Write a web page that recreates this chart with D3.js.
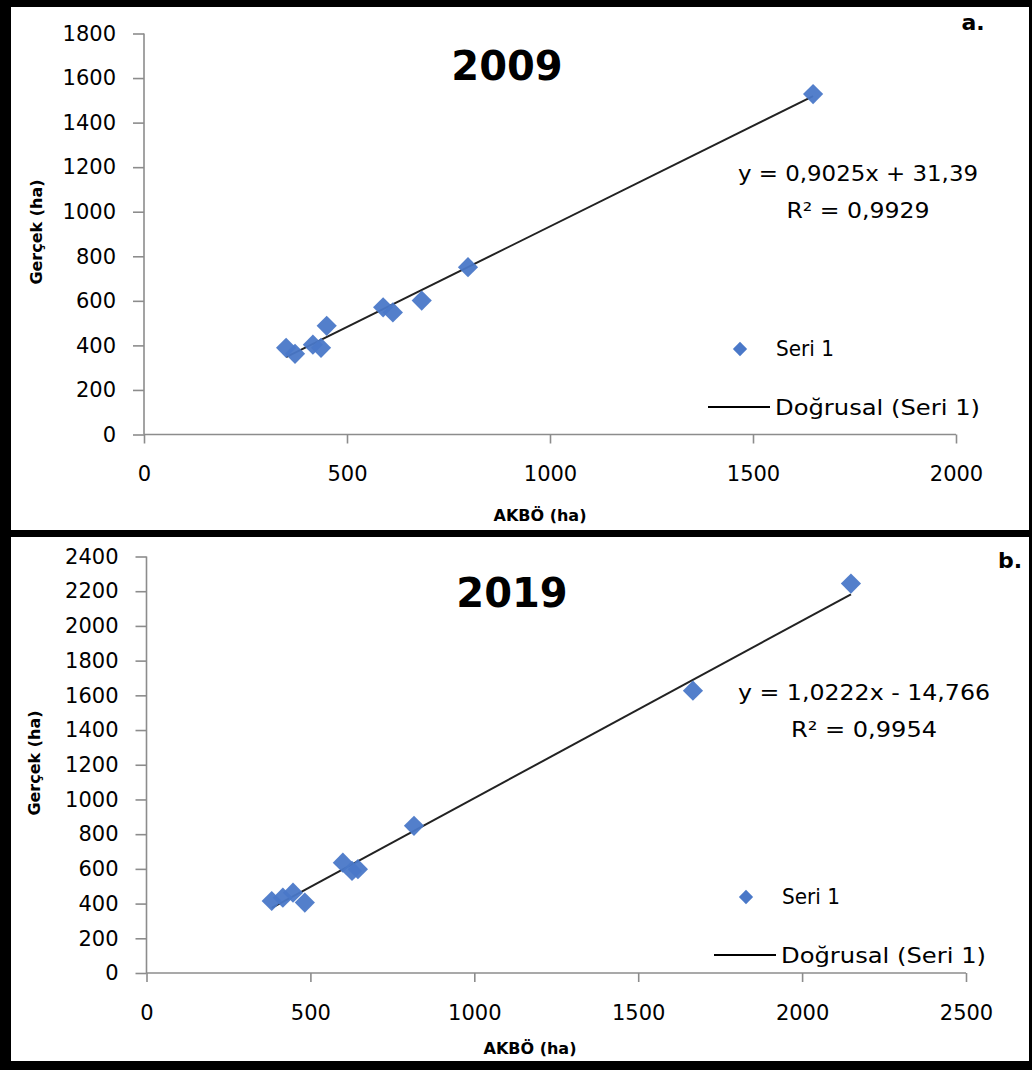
<!DOCTYPE html>
<html>
<head>
<meta charset="utf-8">
<script src="https://cdn.jsdelivr.net/npm/d3@7"></script>
<style>
  html, body { margin: 0; padding: 0; background: #fff; }
  svg { display: block; }
  .tick text { font-family: "DejaVu Sans", sans-serif; fill: #000; }
</style>
</head>
<body>
<svg id="chart" width="1032" height="1070"></svg>
<script>
// 2009 observations: AKBÖ estimate vs. measured area (ha)
const akbo2009   = [350, 372, 416, 436, 450, 589, 613, 684, 798, 1648];
const gercek2009 = [389, 362, 403, 389, 488, 571, 548, 601, 751, 1528];
const fit2009 = { slope: 0.9025, intercept: 31.39 };
const eq2009 = ["y = 0,9025x + 31,39", "R² = 0,9929"];
const xTicks2009 = [0, 500, 1000, 1500, 2000];
const yTicks2009 = [0, 200, 400, 600, 800, 1000, 1200, 1400, 1600, 1800];

// 2019 observations
const akbo2019   = [382, 416, 447, 483, 599, 627, 645, 816, 1667, 2149];
const gercek2019 = [415, 434, 463, 406, 636, 588, 598, 848, 1627, 2244];
const fit2019 = { slope: 1.0222, intercept: -14.766 };
const eq2019 = ["y = 1,0222x - 14,766", "R² = 0,9954"];
const xTicks2019 = [0, 500, 1000, 1500, 2000, 2500];
const yTicks2019 = [0, 200, 400, 600, 800, 1000, 1200, 1400, 1600, 1800, 2000, 2200, 2400];

const legendLabels = ["Seri 1", "Doğrusal (Seri 1)"];
const xTitle = "AKBÖ (ha)";
const yTitle = "Gerçek (ha)";

const svg = d3.select("#chart");
const BLUE = "#4a78c8";
const AXIS = "#8c8c8c";
const FONT = "'DejaVu Sans', sans-serif";
const diamond = d3.symbol().type(d3.symbolDiamond2);

// frame
svg.append("rect").attr("x", 0).attr("y", 0).attr("width", 1032).attr("height", 1070).attr("fill", "#000");
svg.append("rect").attr("x", 11).attr("y", 7).attr("width", 1018).attr("height", 523).attr("fill", "#fff");
svg.append("rect").attr("x", 11).attr("y", 537).attr("width", 1018).attr("height", 524).attr("fill", "#fff");

function panel(p) {
  const g = svg.append("g");
  const x = d3.scaleLinear().domain(p.xDomain).range([p.left, p.right]);
  const y = d3.scaleLinear().domain(p.yDomain).range([p.bottom, p.top]);

  // y axis
  const ya = g.append("g").attr("transform", `translate(${p.left},0)`)
    .call(d3.axisLeft(y).tickValues(p.yTicks).tickSize(11).tickPadding(17).tickFormat(d3.format("d")));
  ya.selectAll("text").attr("font-size", 21).attr("font-family", FONT);
  ya.select(".domain").attr("stroke", AXIS).attr("stroke-width", 1.6).attr("d", `M0,${p.bottom}V${p.top}`);
  ya.selectAll(".tick line").attr("stroke", AXIS).attr("stroke-width", 1.6);

  // x axis
  const xa = g.append("g").attr("transform", `translate(0,${p.bottom})`)
    .call(d3.axisBottom(x).tickValues(p.xTicks).tickSize(9).tickPadding(23).tickFormat(d3.format("d")));
  xa.selectAll("text").attr("font-size", 21).attr("font-family", FONT);
  xa.select(".domain").attr("stroke", AXIS).attr("stroke-width", 1.6).attr("d", `M${p.left},0H${p.right}`);
  xa.selectAll(".tick line").attr("stroke", AXIS).attr("stroke-width", 1.6);

  // axis titles
  g.append("text").attr("x", p.xTitleX).attr("y", p.xTitleY)
    .attr("text-anchor", "middle").attr("font-family", FONT).attr("font-weight", "bold")
    .attr("font-size", 16).text(xTitle);
  g.append("text").attr("transform", `translate(${p.yTitleX},${p.yTitleMid}) rotate(-90)`)
    .attr("text-anchor", "middle").attr("font-family", FONT).attr("font-weight", "bold")
    .attr("font-size", 16).text(yTitle);

  // trend line across observed range
  const xs = d3.extent(p.xs);
  g.append("line")
    .attr("x1", x(xs[0])).attr("y1", y(p.fit.slope * xs[0] + p.fit.intercept))
    .attr("x2", x(xs[1])).attr("y2", y(p.fit.slope * xs[1] + p.fit.intercept))
    .attr("stroke", "#222").attr("stroke-width", 2);

  // points
  g.selectAll(".pt").data(p.xs.map((v, i) => [v, p.ys[i]])).join("path")
    .attr("class", "pt")
    .attr("d", diamond.size(260))
    .attr("transform", d => `translate(${x(d[0])},${y(d[1])})`)
    .attr("fill", BLUE).attr("fill-opacity", 0.95);

  // title
  g.append("text").attr("x", p.titleX).attr("y", p.titleY).attr("text-anchor", "middle")
    .attr("font-family", FONT).attr("font-weight", "bold").attr("font-size", 40).text(p.title);
  g.append("text").attr("x", p.tagX).attr("y", p.tagY).attr("text-anchor", "middle")
    .attr("font-family", FONT).attr("font-weight", "bold").attr("font-size", 22).text(p.tag);

  // equation
  p.eq.forEach((t, i) => {
    g.append("text").attr("x", p.eqX).attr("y", p.eqY + i * 37).attr("text-anchor", "middle")
      .attr("font-family", FONT).attr("font-size", 22)
      .attr("textLength", p.eqLen[i]).attr("lengthAdjust", "spacingAndGlyphs").text(t);
  });

  // legend
  g.append("path").attr("d", diamond.size(130))
    .attr("transform", `translate(${p.legX},${p.legY})`).attr("fill", BLUE);
  g.append("text").attr("x", p.legX + 36).attr("y", p.legY + 7)
    .attr("font-family", FONT).attr("font-size", 21)
    .attr("textLength", 58).attr("lengthAdjust", "spacingAndGlyphs").text(legendLabels[0]);
  g.append("line").attr("x1", p.legX - 32).attr("x2", p.legX + 30)
    .attr("y1", p.legY + 58).attr("y2", p.legY + 58).attr("stroke", "#000").attr("stroke-width", 2);
  g.append("text").attr("x", p.legX + 35).attr("y", p.legY + 66)
    .attr("font-family", FONT).attr("font-size", 21)
    .attr("textLength", 205).attr("lengthAdjust", "spacingAndGlyphs").text(legendLabels[1]);
}

panel({
  xs: akbo2009, ys: gercek2009, fit: fit2009, eq: eq2009, eqLen: [240, 143],
  xTicks: xTicks2009, yTicks: yTicks2009,
  xDomain: [0, 2000], yDomain: [0, 1800],
  left: 144, right: 956, top: 33.5, bottom: 434.5,
  xTitleX: 540, xTitleY: 521, yTitleX: 42, yTitleMid: 232,
  title: "2009", titleX: 507, titleY: 80,
  tag: "a.", tagX: 973, tagY: 30,
  eqX: 858, eqY: 181,
  legX: 740, legY: 349
});

panel({
  xs: akbo2019, ys: gercek2019, fit: fit2019, eq: eq2019, eqLen: [252, 146],
  xTicks: xTicks2019, yTicks: yTicks2019,
  xDomain: [0, 2500], yDomain: [0, 2400],
  left: 146.5, right: 966, top: 556.5, bottom: 973,
  xTitleX: 530, xTitleY: 1054, yTitleX: 40, yTitleMid: 763,
  title: "2019", titleX: 512, titleY: 607,
  tag: "b.", tagX: 1010, tagY: 568,
  eqX: 864, eqY: 700,
  legX: 746, legY: 897
});
</script>
</body>
</html>
